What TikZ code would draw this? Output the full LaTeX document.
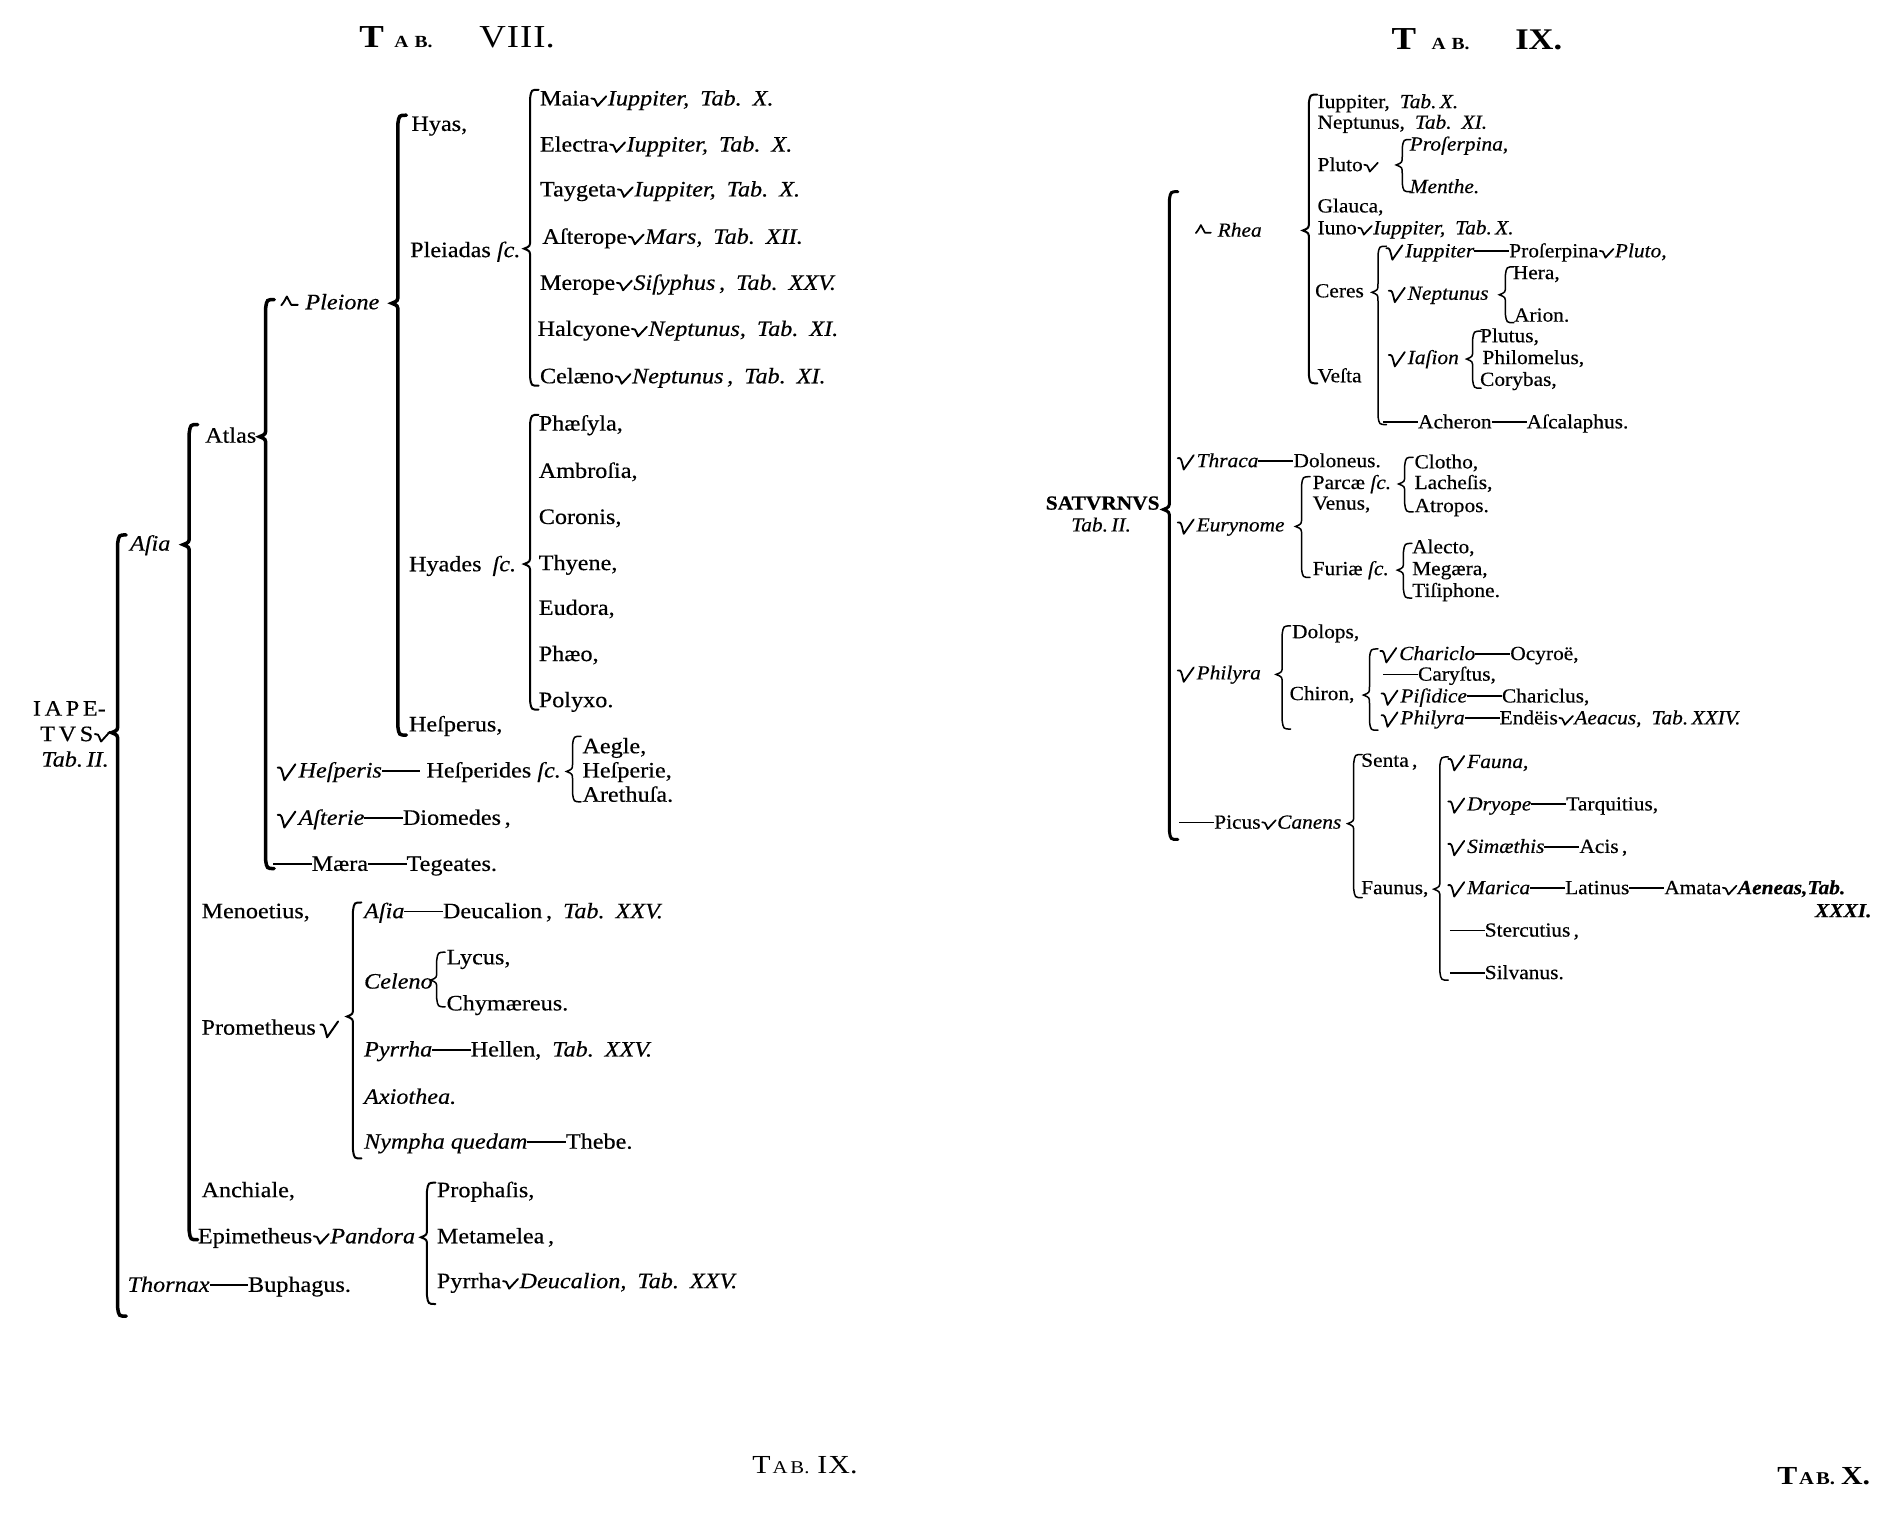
\documentclass[tikz,border=0pt]{standalone}
\usepackage{fontspec}
\setmainfont[FakeStretch=1.1,FakeBold=0.4]{Liberation Serif}
\newfontfamily\rfam[FakeStretch=1.07,FakeBold=0.4]{Liberation Serif}
\newfontfamily\tfam[FakeStretch=1.15]{Liberation Serif}
\newcommand{\Lf}{\rmfamily\fontsize{22}{24}\selectfont}
\newcommand{\Rf}{\rfam\fontsize{20}{22}\selectfont}
\newcommand{\vmark}{\hspace{0.03em}\tikz[baseline=0pt]\draw[line width=0.085em,line cap=round,line join=round] (0,0.32em) .. controls (0.14em,0.34em) .. (0.28em,-0.02em) -- (0.68em,0.42em);\hspace{0.03em}}
\newcommand{\vmarkb}{\tikz[baseline=0pt]\draw[line width=0.09em,line cap=round,line join=round] (0,0.45em) .. controls (0.16em,0.47em) .. (0.3em,-0.12em) -- (0.8em,0.6em);\hspace{0.1em}}
\newcommand{\amark}{\tikz[baseline=0pt]\draw[line width=0.085em,line cap=round,line join=round] (0,0.18em) .. controls (0.1em,0.3em) .. (0.25em,0.58em) -- (0.45em,0.2em) -- (0.75em,0.2em);\hspace{0.3em}}
\newcommand{\ldash}{\rule[0.26em]{1.75em}{0.09em}}
\newcommand{\brkt}[5][2pt]{\draw[line width=#1,line cap=round] (#2+7,#3) .. controls (#2+1,#3) .. (#2,#3+7) -- (#2,#4-7) .. controls (#2,#4-2) .. (#2-5,#4) .. controls (#2,#4+2) .. (#2,#4+7) -- (#2,#5-7) .. controls (#2+1,#5) .. (#2+7,#5);}
\begin{document}
\begin{tikzpicture}[x=1.213pt,y=-1.213pt,
  lt/.style={font=\Lf,inner sep=0pt,anchor=base west,yshift=-6pt},
  rt/.style={font=\Rf,inner sep=0pt,anchor=base west,yshift=-5pt},
  ttl/.style={inner sep=0pt,anchor=base west}]
\useasboundingbox[fill=white] (0,0) rectangle (1568,1247);
% ---------- titles ----------
\node[ttl,font=\tfam\bfseries\fontsize{32}{32}\selectfont] (t8a) at (296,39) {T};
\node[ttl,font=\tfam\bfseries\fontsize{17}{17}\selectfont] (t8b) at (325,39) {A\hspace{6pt}B.};
\node[ttl,font=\tfam\fontsize{32}{32}\selectfont] (t8c) at (395,39) {V\hspace{1pt}I\hspace{1pt}I\hspace{1pt}I.};
\node[ttl,font=\tfam\bfseries\fontsize{32}{32}\selectfont] (t9a) at (1147,41) {T};
\node[ttl,font=\tfam\bfseries\fontsize{17}{17}\selectfont] (t9b) at (1180,41) {A\hspace{6pt}B.};
\node[ttl,font=\tfam\bfseries\fontsize{30}{30}\selectfont] (t9c) at (1249,41) {IX.};
\node[ttl,font=\tfam\fontsize{26}{26}\selectfont] (b9) at (620,1215) {T\hspace{2pt}{\fontsize{18}{18}\selectfont A\hspace{3pt}B.}\hspace{8pt}I\hspace{1pt}X.};
\node[ttl,font=\tfam\bfseries\fontsize{26}{26}\selectfont] (b10) at (1465,1224) {T\hspace{2pt}{\fontsize{18}{18}\selectfont A\hspace{2pt}B.}\hspace{6pt}X.};
% ---------- TAB VIII ----------
\node[lt] (iape) at (27,585) {I\,A\,P\,E-};
\node[lt] (tvs) at (33,606) {T\,V\,S\vmark};
\node[lt] (tab2) at (34,627) {\textit{Tab.\,II.}};
\node[lt] (asia) at (107,449) {\textit{Aſia}};
\node[lt] (atlas) at (169,360) {Atlas};
\node[lt] (pleione) at (231,250) {\amark\textit{Pleione}};
\node[lt] (hyas) at (339,103) {Hyas,};
\node[lt] (pleiadas) at (338,207) {Pleiadas \textit{ſc.}};
\node[lt] (maia) at (445,82) {Maia\vmark\textit{Iuppiter,\enspace Tab.\enspace X.}};
\node[lt] (electra) at (445,120) {Electra\vmark\textit{Iuppiter,\enspace Tab.\enspace X.}};
\node[lt] (taygeta) at (445,157) {Taygeta\vmark\textit{Iuppiter,\enspace Tab.\enspace X.}};
\node[lt] (asterope) at (447,196) {Aſterope\vmark\textit{Mars,\enspace Tab.\enspace XII.}};
\node[lt] (merope) at (445,234) {Merope\vmark\textit{Siſyphus\,,\enspace Tab.\enspace XXV.}};
\node[lt] (halcyone) at (443,272) {Halcyone\vmark\textit{Neptunus,\enspace Tab.\enspace XI.}};
\node[lt] (celaeno) at (445,311) {Celæno\vmark\textit{Neptunus\,,\enspace Tab.\enspace XI.}};
\node[lt] (hyades) at (337,466) {Hyades\enspace\textit{ſc.}};
\node[lt] (phaesyla) at (444,350) {Phæſyla,};
\node[lt] (ambrosia) at (444,389) {Ambroſia,};
\node[lt] (coronis) at (444,427) {Coronis,};
\node[lt] (thyene) at (444,465) {Thyene,};
\node[lt] (eudora) at (444,502) {Eudora,};
\node[lt] (phaeo) at (444,540) {Phæo,};
\node[lt] (polyxo) at (444,578) {Polyxo.};
\node[lt] (hesperus) at (337,598) {Heſperus,};
\node[lt] (hesperis) at (228,636) {\vmarkb\textit{Heſperis}\ldash\ Heſperides \textit{ſc.}};
\node[lt] (aegle) at (480,616) {Aegle,};
\node[lt] (hesperie) at (480,636) {Heſperie,};
\node[lt] (arethusa) at (480,656) {Arethuſa.};
\node[lt] (asterie) at (228,675) {\vmarkb\textit{Aſterie}\ldash Diomedes\,,};
\node[lt] (maera) at (225,713) {\ldash Mæra\ldash Tegeates.};
\node[lt] (menoetius) at (166,752) {Menoetius,};
\node[lt] (prometheus) at (166,848) {Prometheus\,\vmarkb};
\node[lt] (pasia) at (300,752) {\textit{Aſia}\ldash Deucalion\,,\enspace\textit{Tab.\enspace XXV.}};
\node[lt] (celeno) at (300,810) {\textit{Celeno}};
\node[lt] (lycus) at (368,790) {Lycus,};
\node[lt] (chym) at (368,828) {Chymæreus.};
\node[lt] (pyrrha) at (300,866) {\textit{Pyrrha}\ldash Hellen,\enspace\textit{Tab.\enspace XXV.}};
\node[lt] (axio) at (300,905) {\textit{Axiothea.}};
\node[lt] (nympha) at (300,942) {\textit{Nympha quedam}\ldash Thebe.};
\node[lt] (anchiale) at (166,982) {Anchiale,};
\node[lt] (epi) at (163,1020) {Epimetheus\vmark\textit{Pandora}};
\node[lt] (prophasis) at (360,982) {Prophaſis,};
\node[lt] (metamelea) at (360,1020) {Metamelea\,,};
\node[lt] (pyrrha2) at (360,1057) {Pyrrha\vmark\textit{Deucalion,\enspace Tab.\enspace XXV.}};
\node[lt] (thornax) at (105,1060) {\textit{Thornax}\ldash Buphagus.};
% brackets left
\brkt[3.5pt]{97}{441}{604}{1085}
\brkt[3.5pt]{156}{350}{449}{1022}
\brkt[3.5pt]{219}{247}{360}{716}
\brkt[3.5pt]{328}{95}{250}{606}
\brkt[2pt]{437}{74}{205}{318}
\brkt[2pt]{437}{342}{465}{585}
\brkt[1.5pt]{472}{607}{636}{661}
\brkt[2pt]{291}{744}{838}{955}
\brkt[1.5pt]{360}{785}{808}{830}
\brkt[2pt]{352}{975}{1020}{1075}
% ---------- TAB IX ----------
\node[rt] (saturn) at (862,416) {\textbf{SATVRNVS}};
\node[rt] (stab) at (883,434) {\textit{Tab.\,II.}};
\node[rt] (rhea) at (985,191) {\amark\textit{Rhea}};
\node[rt] (iup) at (1086,85) {Iuppiter,\enspace\textit{Tab.\,X.}};
\node[rt] (nep) at (1086,102) {Neptunus,\enspace\textit{Tab.\enspace XI.}};
\node[rt] (pluto) at (1086,137) {Pluto\vmark};
\node[rt] (proserp) at (1162,120) {\textit{Proſerpina,}};
\node[rt] (menthe) at (1162,155) {\textit{Menthe.}};
\node[rt] (glauca) at (1086,171) {Glauca,};
\node[rt] (iuno) at (1086,189) {Iuno\vmark\textit{Iuppiter,\enspace Tab.\,X.}};
\node[rt] (ceres) at (1084,241) {Ceres};
\node[rt] (vesta) at (1086,311) {Veſta};
\node[rt] (ciup) at (1142,208) {\vmarkb\textit{Iuppiter}\ldash Proſerpina\vmark\textit{Pluto,}};
\node[rt] (cnep) at (1144,243) {\vmarkb\textit{Neptunus}};
\node[rt] (hera) at (1247,226) {Hera,};
\node[rt] (arion) at (1248,261) {Arion.};
\node[rt] (iasion) at (1144,296) {\vmarkb\textit{Iaſion}};
\node[rt] (plutus) at (1220,278) {Plutus,};
\node[rt] (philo) at (1222,296) {Philomelus,};
\node[rt] (cory) at (1220,314) {Corybas,};
\node[rt] (acheron) at (1140,349) {\ldash Acheron\ldash Aſcalaphus.};
\node[rt] (thraca) at (970,381) {\vmarkb\textit{Thraca}\ldash Doloneus.};
\node[rt] (clotho) at (1166,382) {Clotho,};
\node[rt] (lach) at (1166,399) {Lacheſis,};
\node[rt] (atropos) at (1166,418) {Atropos.};
\node[rt] (eury) at (970,434) {\vmarkb\textit{Eurynome}};
\node[rt] (parcae) at (1082,399) {Parcæ \textit{ſc.}};
\node[rt] (venus) at (1082,416) {Venus,};
\node[rt] (furiae) at (1082,470) {Furiæ \textit{ſc.}};
\node[rt] (alecto) at (1164,452) {Alecto,};
\node[rt] (megaera) at (1164,470) {Megæra,};
\node[rt] (tisi) at (1164,488) {Tiſiphone.};
\node[rt] (philyra) at (970,556) {\vmarkb\textit{Philyra}};
\node[rt] (dolops) at (1065,522) {Dolops,};
\node[rt] (chiron) at (1063,573) {Chiron,};
\node[rt] (chariclo) at (1137,540) {\vmarkb\textit{Chariclo}\ldash Ocyroë,};
\node[rt] (carystus) at (1140,557) {\ldash Caryſtus,};
\node[rt] (pisidice) at (1138,575) {\vmarkb\textit{Piſidice}\ldash Chariclus,};
\node[rt] (philyra2) at (1138,593) {\vmarkb\textit{Philyra}\ldash Endëis\vmark\textit{Aeacus,\enspace Tab.\,XXIV.}};
\node[rt] (picus) at (972,679) {\ldash Picus\vmark\textit{Canens}};
\node[rt] (senta) at (1122,628) {Senta\,,};
\node[rt] (faunus) at (1122,733) {Faunus,};
\node[rt] (fauna) at (1193,629) {\vmarkb\textit{Fauna,}};
\node[rt] (dryope) at (1193,664) {\vmarkb\textit{Dryope}\ldash Tarquitius,};
\node[rt] (simaethis) at (1193,699) {\vmarkb\textit{Simæthis}\ldash Acis\,,};
\node[rt] (marica) at (1193,733) {\vmarkb\textit{Marica}\ldash Latinus\ldash Amata\vmark\textbf{\textit{Aeneas,Tab.}}};
\node[rt,anchor=base east] (xxxi) at (1543,752) {\textbf{\textit{XXXI.}}};
\node[rt] (sterc) at (1195,768) {\ldash Stercutius\,,};
\node[rt] (silv) at (1195,803) {\ldash Silvanus.};
% brackets right
\brkt[3pt]{964}{158}{420}{692}
\brkt[2pt]{1079}{78}{190}{316}
\brkt[1.5pt]{1156}{115}{136}{158}
\brkt[1.5pt]{1136}{203}{241}{350}
\brkt[1.5pt]{1241}{220}{243}{266}
\brkt[1.5pt]{1214}{273}{296}{320}
\brkt[1.5pt]{1158}{377}{399}{422}
\brkt[1.5pt]{1073}{393}{434}{476}
\brkt[1.5pt]{1157}{448}{470}{493}
\brkt[1.5pt]{1057}{516}{556}{601}
\brkt[1.5pt]{1129}{535}{573}{602}
\brkt[1.5pt]{1116}{622}{679}{740}
\brkt[1.5pt]{1187}{624}{733}{808}
\end{tikzpicture}
\end{document}
